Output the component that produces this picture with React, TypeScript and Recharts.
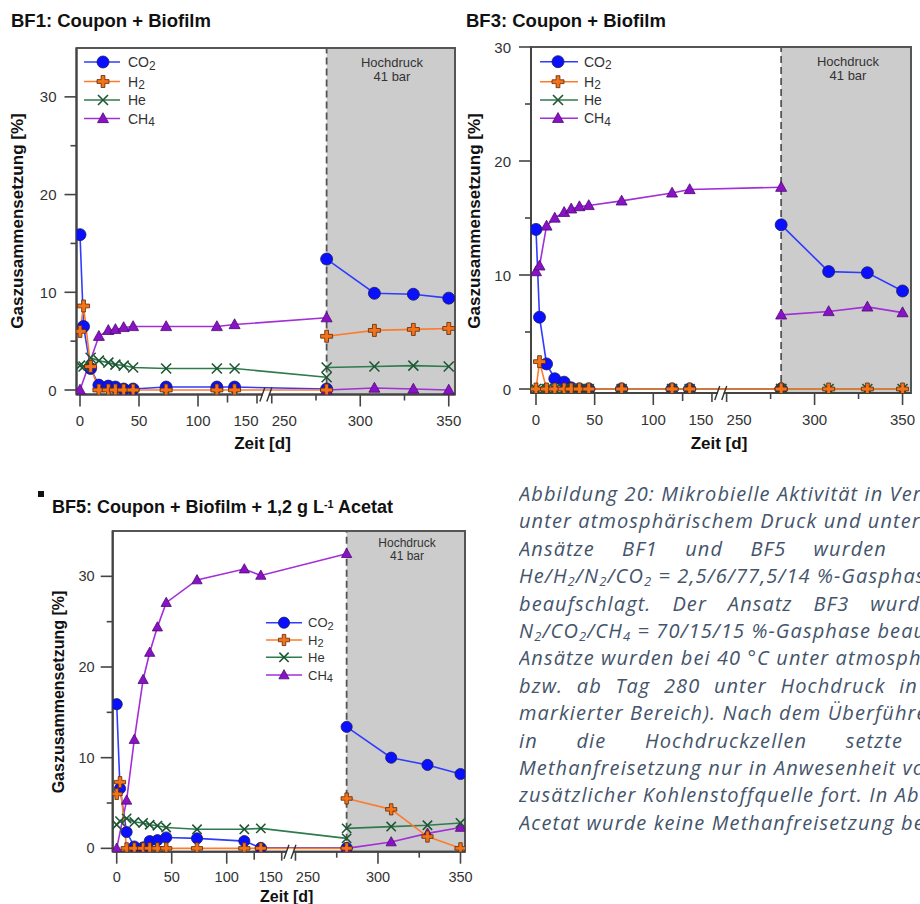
import React from 'react';
import { ComposedChart, Line, XAxis, YAxis, ReferenceArea, ReferenceLine, ReferenceDot } from 'recharts';

const FONT = '"Liberation Sans", Arial, sans-serif';

// sampling days (atmospheric phase, then high pressure phase)
const preDays = [0, 3, 9, 16, 24, 30, 37, 45, 73, 116, 131, 281];
const postDays = [281, 308, 330, 350];
const transferDay = 281;

// BF1: Coupon + Biofilm
const bf1Co2Pre = [15.9, 6.5, 2.2, 0.5, 0.4, 0.3, 0.1, 0.1, 0.3, 0.3, 0.3, 0.1];
const bf1H2Pre = [6.0, 8.6, 2.4, 0, 0, 0, 0, 0, 0, 0, 0, 0];
const bf1HePre = [2.5, 2.4, 3.3, 3.0, 2.8, 2.6, 2.5, 2.3, 2.2, 2.2, 2.2, 1.3];
const bf1Ch4Pre = [0, null, null, 5.5, 6.1, 6.2, 6.4, 6.5, 6.5, 6.5, 6.7, 7.4];
const bf1Co2Post = [13.4, 9.9, 9.8, 9.4];
const bf1H2Post = [5.5, 6.1, 6.2, 6.3];
const bf1HePost = [2.3, 2.4, 2.5, 2.4];
const bf1Ch4Post = [0, 0.2, 0.1, 0];

// BF3: Coupon + Biofilm
const bf3Co2Pre = [14.0, 6.3, 2.2, 0.9, 0.6, 0.1, 0, 0, 0, 0, 0, 0];
const bf3H2Pre = [0, 2.4, 0, 0, 0, 0, 0, 0, 0, 0, 0, 0];
const bf3HePre = [0, 0, 0, 0, 0, 0, 0, 0, 0, 0, 0, 0];
const bf3Ch4Pre = [10.3, 10.8, 14.3, 15.0, 15.5, 15.8, 16.0, 16.1, 16.5, 17.2, 17.5, 17.7];
const bf3Co2Post = [14.4, 10.3, 10.2, 8.6];
const bf3H2Post = [0, 0, 0, 0];
const bf3HePost = [0, 0, 0, 0];
const bf3Ch4Post = [6.5, 6.8, 7.2, 6.7];

// BF5: Coupon + Biofilm + 1,2 g/L Acetat
const bf5Co2Pre = [15.9, 6.6, 1.8, 0.2, 0.1, 0.8, 0.9, 1.2, 1.1, 0.8, 0.05, 0.05];
const bf5H2Pre = [6.0, 7.3, 0, 0, 0, 0, 0, 0, 0, 0, 0, 0];
const bf5HePre = [2.6, 3.0, 3.3, 2.9, 2.8, 2.6, 2.5, 2.3, 2.1, 2.1, 2.2, 1.1];
const bf5Ch4Pre = [0, null, 5.3, 12.0, 18.6, 21.6, 24.4, 27.1, 29.6, 30.8, 30.1, 32.5];
const bf5Co2Post = [13.4, 10.0, 9.2, 8.2];
const bf5H2Post = [5.5, 4.3, 1.3, 0];
const bf5HePost = [2.2, 2.4, 2.55, 2.8];
const bf5Ch4Post = [0, 0.7, 1.65, 2.3];

// x axis with a break between day 150 and day 250
const xTickDays = [0, 50, 100, 125, 150, 250, 275, 300, 325, 350];
const xTickLabels = ['0', '50', '100', '', '150', '250', '', '300', '', '350'];
const xTickLens = [12, 12, 12, 8, 9, 9, 6, 12, 6, 12];
const xTickShift = [0, 0, 0, 0, -11, 12.5, 0, 0, 0, 0];
const yTicks = [0, 5, 10, 15, 20, 25, 30];
const yTickLabels = ['0', '', '10', '', '20', '', '30'];

const captionLines = [
  'Abbildung 20: Mikrobielle Aktivität in Versuchen',
  'unter atmosphärischem Druck und unter Hochdruck',
  'Ansätze BF1 und BF5 wurden',
  'He/H_2/N_2/CO_2 = 2,5/6/77,5/14 %-Gasphase',
  'beaufschlagt. Der Ansatz BF3 wurd',
  'N_2/CO_2/CH_4 = 70/15/15 %-Gasphase beaufschlagt',
  'Ansätze wurden bei 40 °C unter atmosphärischem',
  'bzw. ab Tag 280 unter Hochdruck in',
  'markierter Bereich). Nach dem Überführen',
  'in die Hochdruckzellen setzte',
  'Methanfreisetzung nur in Anwesenheit von',
  'zusätzlicher Kohlenstoffquelle fort. In Abwesenheit',
  'Acetat wurde keine Methanfreisetzung beobachtet',
];
const captionJustify: (number | null)[] = [null, null, 368, null, 401, null, null, 399, null, 384, null, null, null];

const axisPos = (day: number) => (day <= 200 ? day : 162.5 + (day - 250) * 1.5);
const BREAK_POS = 157.5;

type Num = number | null;
type Set4 = { co2: Num[]; h2: Num[]; he: Num[]; ch4: Num[] };

const buildRows = (pre: Set4, post: Set4) => [
  ...preDays.map((d, i) => ({
    x: axisPos(d),
    co2Pre: pre.co2[i], h2Pre: pre.h2[i], hePre: pre.he[i], ch4Pre: pre.ch4[i],
  })),
  ...postDays.map((d, i) => ({
    x: axisPos(d),
    co2Post: post.co2[i], h2Post: post.h2[i], hePost: post.he[i], ch4Post: post.ch4[i],
  })),
];

const bf1Rows = buildRows(
  { co2: bf1Co2Pre, h2: bf1H2Pre, he: bf1HePre, ch4: bf1Ch4Pre },
  { co2: bf1Co2Post, h2: bf1H2Post, he: bf1HePost, ch4: bf1Ch4Post },
);
const bf3Rows = buildRows(
  { co2: bf3Co2Pre, h2: bf3H2Pre, he: bf3HePre, ch4: bf3Ch4Pre },
  { co2: bf3Co2Post, h2: bf3H2Post, he: bf3HePost, ch4: bf3Ch4Post },
);
const bf5Rows = buildRows(
  { co2: bf5Co2Pre, h2: bf5H2Pre, he: bf5HePre, ch4: bf5Ch4Pre },
  { co2: bf5Co2Post, h2: bf5H2Post, he: bf5HePost, ch4: bf5Ch4Post },
);

type Marker = 'circle' | 'plus' | 'cross' | 'triangle';
const series: { key: string; label: string; sub: string; color: string; marker: Marker }[] = [
  { key: 'co2', label: 'CO', sub: '2', color: '#2f3cff', marker: 'circle' },
  { key: 'h2', label: 'H', sub: '2', color: '#ff7b2c', marker: 'plus' },
  { key: 'he', label: 'He', sub: '', color: '#2f7b4d', marker: 'cross' },
  { key: 'ch4', label: 'CH', sub: '4', color: '#a22fd8', marker: 'triangle' },
];
const drawOrder = ['co2', 'ch4', 'he', 'h2'];

const drawMarker = (kind: Marker, cx: number, cy: number, s: number) => {
  if (kind === 'circle') {
    return <circle cx={cx} cy={cy} r={6 * s} fill="#0a10ff" stroke="#1c1c58" strokeWidth={0.8} />;
  }
  if (kind === 'plus') {
    const a = 6 * s;
    const w = 1.9 * s;
    const d = `M${cx - w},${cy - a}H${cx + w}V${cy - w}H${cx + a}V${cy + w}H${cx + w}V${cy + a}H${cx - w}V${cy + w}H${cx - a}V${cy - w}H${cx - w}Z`;
    return <path d={d} fill="#f47218" stroke="#5c2a08" strokeWidth={0.8} />;
  }
  if (kind === 'cross') {
    const a = 5 * s;
    return (
      <path
        d={`M${cx - a},${cy - a}L${cx + a},${cy + a}M${cx - a},${cy + a}L${cx + a},${cy - a}`}
        stroke="#1d5734"
        strokeWidth={1.6}
        fill="none"
      />
    );
  }
  const a = 5.5 * s;
  return (
    <path
      d={`M${cx},${cy - a * 1.05}L${cx + a},${cy + a * 0.75}L${cx - a},${cy + a * 0.75}Z`}
      fill="#8a12c6"
      stroke="#4b0a70"
      strokeWidth={0.8}
    />
  );
};

const makeXTick = (fs: number, labelDy: number) => (props: any) => {
  const { x, y, payload } = props;
  const idx = xTickDays.findIndex((d) => Math.abs(axisPos(d) - payload.value) < 0.01);
  const len = idx >= 0 ? xTickLens[idx] : 8;
  const label = idx >= 0 ? xTickLabels[idx] : '';
  const dx = idx >= 0 ? xTickShift[idx] : 0;
  return (
    <g>
      <line x1={x} x2={x} y1={y} y2={y + len} stroke="#444" strokeWidth={1.6} />
      {label && (
        <text x={x + dx} y={y + labelDy} textAnchor="middle" dominantBaseline="central" fontSize={fs} fill="#333" fontFamily={FONT}>
          {label}
        </text>
      )}
    </g>
  );
};

const makeYTick = (fs: number, gap: number) => (props: any) => {
  const { x, y, payload } = props;
  const idx = yTicks.indexOf(payload.value);
  const label = idx >= 0 ? yTickLabels[idx] : '';
  const len = label ? 12 : 6;
  return (
    <g>
      <line x1={x - len} x2={x} y1={y} y2={y} stroke="#444" strokeWidth={1.6} />
      {label && (
        <text x={x - gap} y={y} textAnchor="end" dominantBaseline="central" fontSize={fs} fill="#333" fontFamily={FONT}>
          {label}
        </text>
      )}
    </g>
  );
};

const breakMark = (p: any) => {
  const { cx, cy } = p;
  if (cx == null || cy == null) return <g />;
  return (
    <g>
      <rect x={cx - 3} y={cy - 3} width={6} height={6} fill="#fff" />
      <line x1={cx - 6} y1={cy + 7} x2={cx - 1} y2={cy - 7} stroke="#333" strokeWidth={1.4} />
      <line x1={cx + 1} y1={cy + 7} x2={cx + 6} y2={cy - 7} stroke="#333" strokeWidth={1.4} />
    </g>
  );
};

interface GasChartProps {
  rows: any[];
  width: number;
  height: number;
  margin: { top: number; right: number; bottom: number; left: number };
  xDomain: [number, number];
  yDomain: [number, number];
  s: number;
  tickFont: number;
  xLabelDy: number;
  yLabelGap: number;
}

const GasChart: React.FC<GasChartProps> = ({ rows, width, height, margin, xDomain, yDomain, s, tickFont, xLabelDy, yLabelGap }) => {
  const lines: React.ReactNode[] = [];
  drawOrder.forEach((k) => {
    const sr = series.find((x) => x.key === k)!;
    ['Pre', 'Post'].forEach((phase) => {
      lines.push(
        <Line
          key={k + phase}
          dataKey={k + phase}
          stroke={sr.color}
          strokeWidth={1.6}
          connectNulls
          isAnimationActive={false}
          activeDot={false}
          dot={(p: any) => (
            <g key={`${k}${phase}-${p.index}`}>
              {p.cy == null || p.value == null ? null : drawMarker(sr.marker, p.cx, p.cy, s)}
            </g>
          )}
        />,
      );
    });
  });

  return (
    <ComposedChart width={width} height={height} data={rows} margin={margin}>
      <XAxis
        type="number"
        dataKey="x"
        domain={xDomain}
        ticks={xTickDays.map(axisPos)}
        interval={0}
        allowDataOverflow
        height={40}
        tickSize={0}
        tickMargin={0}
        tickLine={false}
        axisLine={{ stroke: '#444', strokeWidth: 2 }}
        tick={makeXTick(tickFont, xLabelDy)}
      />
      <YAxis
        type="number"
        domain={yDomain}
        ticks={yTicks}
        interval={0}
        allowDataOverflow
        width={40}
        tickSize={0}
        tickMargin={0}
        tickLine={false}
        axisLine={{ stroke: '#444', strokeWidth: 2 }}
        tick={makeYTick(tickFont, yLabelGap)}
      />
      <ReferenceArea x1={axisPos(transferDay)} x2={xDomain[1]} y1={yDomain[0]} y2={yDomain[1]} fill="#cccccc" fillOpacity={1} stroke="none" />
      <ReferenceLine x={axisPos(transferDay)} stroke="#555" strokeWidth={1.8} strokeDasharray="7 4" />
      <ReferenceArea x1={xDomain[0]} x2={xDomain[1]} y1={yDomain[0]} y2={yDomain[1]} fill="none" stroke="#555" strokeWidth={2} />
      {lines}
      <ReferenceDot x={BREAK_POS} y={yDomain[0]} ifOverflow="visible" shape={breakMark} />
    </ComposedChart>
  );
};

const LegendBox: React.FC<{ x1: number; x2: number; xm: number; xt: number; rows: number[]; fs: number; s: number }> = ({ x1, x2, xm, xt, rows, fs, s }) => (
  <svg width={920} height={904} style={{ position: 'absolute', left: 0, top: 0, pointerEvents: 'none' }}>
    {series.map((sr, i) => (
      <g key={sr.key}>
        <line x1={x1} x2={x2} y1={rows[i]} y2={rows[i]} stroke={sr.color} strokeWidth={1.6} />
        {drawMarker(sr.marker, xm, rows[i], s)}
        <text x={xt} y={rows[i]} dominantBaseline="central" fontSize={fs} fill="#333" fontFamily={FONT}>
          {sr.label}
          {sr.sub && (
            <tspan fontSize={fs * 0.85} dy={fs * 0.25}>
              {sr.sub}
            </tspan>
          )}
        </text>
      </g>
    ))}
  </svg>
);

const abs = (left: number, top: number): React.CSSProperties => ({ position: 'absolute', left, top });

const Centered: React.FC<{ x: number; y: number; fs: number; bold?: boolean; rotate?: boolean; children: React.ReactNode }> = ({ x, y, fs, bold, rotate, children }) => (
  <div
    style={{
      position: 'absolute',
      left: x,
      top: y,
      transform: `translate(-50%, -50%)${rotate ? ' rotate(-90deg)' : ''}`,
      fontFamily: FONT,
      fontSize: fs,
      fontWeight: bold ? 'bold' : 'normal',
      color: bold ? '#111' : '#333',
      whiteSpace: 'nowrap',
      lineHeight: 1,
    }}
  >
    {children}
  </div>
);

const withSubs = (text: string) =>
  text.split(/_(\d)/).map((part, i) =>
    i % 2 === 1 ? (
      <sub key={i} style={{ fontSize: '0.65em', verticalAlign: '-0.2em' }}>
        {part}
      </sub>
    ) : (
      <React.Fragment key={i}>{part}</React.Fragment>
    ),
  );

const Caption: React.FC = () => (
  <div style={{ position: 'absolute', left: 519, top: 0, width: 401, height: 904, overflow: 'hidden' }}>
    {captionLines.map((line, i) => {
      const top = 494 + i * 27.4 - 14;
      const base: React.CSSProperties = {
        position: 'absolute',
        left: 0,
        top,
        height: 28,
        lineHeight: '28px',
        fontFamily: '"Open Sans", sans-serif',
        fontStyle: 'italic',
        fontSize: 20,
        letterSpacing: 1.1,
        color: '#44546a',
        whiteSpace: 'nowrap',
      };
      const w = captionJustify[i];
      if (w) {
        return (
          <div key={i} style={{ ...base, width: w, display: 'flex', justifyContent: 'space-between' }}>
            {line.split(' ').map((word, j) => (
              <span key={j}>{withSubs(word)}</span>
            ))}
          </div>
        );
      }
      return (
        <div key={i} style={base}>
          {withSubs(line)}
        </div>
      );
    })}
  </div>
);

const App: React.FC = () => (
  <div style={{ position: 'absolute', left: 0, top: 0, width: 920, height: 904, overflow: 'hidden', background: '#fff' }}>
    {/* BF1 */}
    <div style={abs(0, 0)}>
      <GasChart
        rows={bf1Rows}
        width={470}
        height={460}
        margin={{ top: 48, right: 15, bottom: 25.5, left: 36.5 }}
        xDomain={[-2.97, 317.8]}
        yDomain={[-0.46, 35]}
        s={1}
        tickFont={15}
        xLabelDy={25.5}
        yLabelGap={20}
      />
    </div>
    {/* BF3 */}
    <div style={abs(460, 0)}>
      <GasChart
        rows={bf3Rows}
        width={460}
        height={460}
        margin={{ top: 47, right: 9, bottom: 27, left: 31 }}
        xDomain={[-4.26, 319.7]}
        yDomain={[-0.35, 30]}
        s={1}
        tickFont={15}
        xLabelDy={26}
        yLabelGap={20}
      />
    </div>
    {/* BF5 */}
    <div style={abs(0, 470)}>
      <GasChart
        rows={bf5Rows}
        width={480}
        height={434}
        margin={{ top: 61, right: 15, bottom: 12.3, left: 72.7 }}
        xDomain={[-3.64, 316.6]}
        yDomain={[-0.37, 35]}
        s={0.93}
        tickFont={14.5}
        xLabelDy={25}
        yLabelGap={18}
      />
    </div>

    <LegendBox x1={84} x2={120} xm={103} xt={128} rows={[62, 81.5, 100, 118.5]} fs={14} s={1} />
    <LegendBox x1={540} x2={578} xm={558} xt={584} rows={[61.7, 81.7, 100, 118.3]} fs={14} s={1} />
    <LegendBox x1={266} x2={302} xm={284} xt={308} rows={[622.7, 640, 657.3, 675]} fs={13} s={0.93} />

    {/* titles */}
    <div style={{ ...abs(11, 12), fontFamily: FONT, fontWeight: 'bold', fontSize: 18.5, color: '#111', whiteSpace: 'nowrap', lineHeight: 1 }}>
      BF1: Coupon + Biofilm
    </div>
    <div style={{ ...abs(466, 12), fontFamily: FONT, fontWeight: 'bold', fontSize: 18.5, color: '#111', whiteSpace: 'nowrap', lineHeight: 1 }}>
      BF3: Coupon + Biofilm
    </div>
    <div style={{ ...abs(38, 491), width: 5.5, height: 5.5, background: '#111' }} />
    <div style={{ ...abs(52, 498), fontFamily: FONT, fontWeight: 'bold', fontSize: 18, color: '#111', whiteSpace: 'nowrap', lineHeight: 1 }}>
      BF5: Coupon + Biofilm + 1,2 g L<sup style={{ fontSize: '0.6em', verticalAlign: '0.5em' }}>-1</sup> Acetat
    </div>

    {/* axis titles */}
    <Centered x={17} y={221} fs={17} bold rotate>Gaszusammensetzung [%]</Centered>
    <Centered x={473.5} y={221} fs={17} bold rotate>Gaszusammensetzung [%]</Centered>
    <Centered x={59} y={692} fs={16} bold rotate>Gaszusammensetzung [%]</Centered>
    <Centered x={262.5} y={443} fs={17} bold>Zeit [d]</Centered>
    <Centered x={719} y={443} fs={17} bold>Zeit [d]</Centered>
    <Centered x={286.7} y={897} fs={16} bold>Zeit [d]</Centered>

    {/* high pressure labels */}
    <Centered x={392} y={62} fs={13}>Hochdruck</Centered>
    <Centered x={392} y={75.5} fs={13}>41 bar</Centered>
    <Centered x={848} y={61} fs={13}>Hochdruck</Centered>
    <Centered x={848} y={74.5} fs={13}>41 bar</Centered>
    <Centered x={407} y={542.5} fs={12}>Hochdruck</Centered>
    <Centered x={407} y={555.5} fs={12}>41 bar</Centered>

    <Caption />
  </div>
);

export default App;
